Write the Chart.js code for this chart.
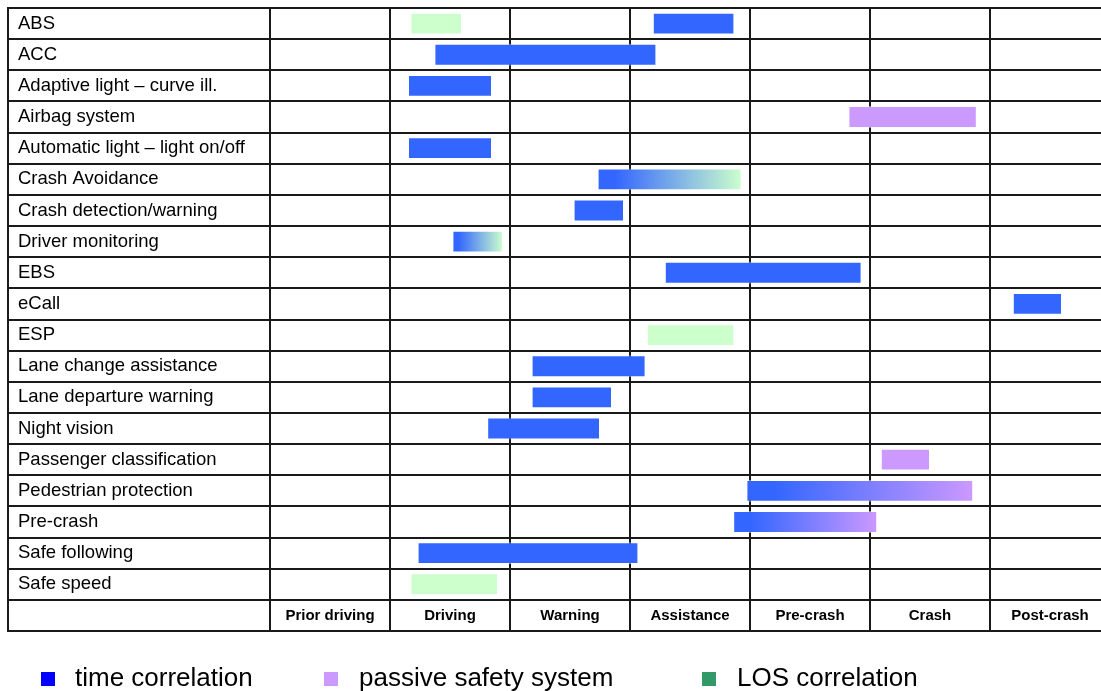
<!DOCTYPE html>
<html>
<head>
<meta charset="utf-8">
<script src="https://cdn.jsdelivr.net/npm/chart.js@4.4.1/dist/chart.umd.min.js"></script>
<style>
    body { margin: 0; background: #fff; }
    #wrap { position: relative; width: 1101px; height: 691px; overflow: hidden; }
    .legend-box { position: absolute; top: 672px; width: 14px; height: 14px; }
    .legend-text { position: absolute; top: 662px; font: 26px/30px "Liberation Sans", Arial, sans-serif; color: #000; white-space: nowrap; }
</style>
</head>
<body>
<div id="wrap">
    <canvas id="phaseChart" width="1101" height="691"></canvas>
    <div class="legend-box" style="left:41px; background:#0000ff;"></div>
    <div class="legend-text" style="left:75px;">time correlation</div>
    <div class="legend-box" style="left:324px; background:#cc99ff;"></div>
    <div class="legend-text" style="left:359px;">passive safety system</div>
    <div class="legend-box" style="left:702px; background:#339966;"></div>
    <div class="legend-text" style="left:737px;">LOS correlation</div>
</div>
<script>
// rows of the table, last one is the phase label row
const systems = [
    'ABS', 'ACC', 'Adaptive light – curve ill.', 'Airbag system', 'Automatic light – light on/off',
    'Crash Avoidance', 'Crash detection/warning', 'Driver monitoring', 'EBS', 'eCall', 'ESP',
    'Lane change assistance', 'Lane departure warning', 'Night vision', 'Passenger classification',
    'Pedestrian protection', 'Pre-crash', 'Safe following', 'Safe speed', ''
];
const phases = ['Prior driving', 'Driving', 'Warning', 'Assistance', 'Pre-crash', 'Crash', 'Post-crash'];

// bar spans in phase units (0 = start of "Prior driving")
const activeBars = [
    [3.19, 3.87], [1.37, 3.22], [1.15, 1.85], null, [1.15, 1.85],
    null, [2.53, 2.95], null, [3.29, 4.93], [6.19, 6.6], null,
    [2.18, 3.13], [2.18, 2.85], [1.81, 2.75], null,
    null, null, [1.23, 3.07], null, null
];
const losBars = [
    [1.17, 1.6], null, null, null, null,
    null, null, null, null, null, [3.14, 3.87],
    null, null, null, null,
    null, null, null, [1.17, 1.9], null
];
const passiveBars = [
    null, null, null, [4.82, 5.89], null,
    null, null, null, null, null, null,
    null, null, null, [5.09, 5.5],
    null, null, null, null, null
];
const activeToLosBars = [
    null, null, null, null, null,
    [2.73, 3.93], null, [1.52, 1.94], null, null, null,
    null, null, null, null,
    null, null, null, null, null
];
const activeToPassiveBars = [
    null, null, null, null, null,
    null, null, null, null, null, null,
    null, null, null, null,
    [3.97, 5.86], [3.86, 5.06], null, null, null
];

const BLUE = '#3366ff';
const GREEN = '#ccffcc';
const PURPLE = '#cc99ff';
const FONT = '"Liberation Sans", Arial, sans-serif';

// x range so the label column sits left of 0 and the last column runs off the edge
const X_MIN = -262 / 120;
const X_MAX = 831 / 120;

function gradientFill(from, to) {
    return (ctx) => {
        const chart = ctx.chart;
        if (!chart.chartArea || !Array.isArray(ctx.raw)) return from;
        const xs = chart.scales.x;
        const x0 = xs.getPixelForValue(ctx.raw[0]);
        const x1 = xs.getPixelForValue(ctx.raw[1]);
        const g = chart.ctx.createLinearGradient(x0, 0, x1, 0);
        g.addColorStop(0, from);
        g.addColorStop(0.12, from);
        g.addColorStop(1, to);
        return g;
    };
}

function barSet(label, data, color) {
    return {
        label,
        data,
        backgroundColor: color,
        borderColor: 'rgba(255, 255, 255, 0.45)',
        borderWidth: 1,
        borderSkipped: false,
        grouped: false,
        barPercentage: 0.7,
        categoryPercentage: 1
    };
}

window.addEventListener('DOMContentLoaded', () => {
    const ctx = document.getElementById('phaseChart').getContext('2d');
    new Chart(ctx, {
        type: 'bar',
        data: {
            labels: systems,
            datasets: [
                barSet('time correlation', activeBars, BLUE),
                barSet('LOS correlation', losBars, GREEN),
                barSet('passive safety system', passiveBars, PURPLE),
                barSet('time → LOS', activeToLosBars, gradientFill(BLUE, GREEN)),
                barSet('time → passive', activeToPassiveBars, gradientFill(BLUE, PURPLE))
            ]
        },
        options: {
            indexAxis: 'y',
            responsive: false,
            animation: false,
            layout: { padding: { left: 8, top: 8, right: 0, bottom: 60 } },
            plugins: {
                legend: { display: false },
                tooltip: { enabled: false }
            },
            scales: {
                x: {
                    type: 'linear',
                    position: 'bottom',
                    min: X_MIN,
                    max: X_MAX,
                    afterBuildTicks: (scale) => {
                        scale.ticks = [X_MIN, 0, 1, 2, 3, 4, 5, 6].map(v => ({ value: v }));
                    },
                    afterFit: (scale) => {
                        scale.height = 0;
                        scale.paddingLeft = 0;
                        scale.paddingRight = 0;
                    },
                    grid: { color: '#1a1a1a', lineWidth: 2, drawTicks: false },
                    border: { display: true, color: '#1a1a1a', width: 2 },
                    ticks: {
                        mirror: true,
                        autoSkip: false,
                        maxRotation: 0,
                        padding: 6,
                        labelOffset: 60,
                        color: '#000',
                        font: { family: FONT, size: 15, weight: 'bold' },
                        callback: (v) => (v >= 0 && Number.isInteger(v) ? phases[v] : '')
                    }
                },
                y: {
                    type: 'category',
                    afterFit: (scale) => {
                        scale.width = 0;
                        scale.paddingTop = 0;
                        scale.paddingBottom = 0;
                    },
                    grid: { color: '#1a1a1a', lineWidth: 2, drawTicks: false, offset: true },
                    border: { display: true, color: '#1a1a1a', width: 2 },
                    ticks: {
                        mirror: true,
                        padding: 10,
                        color: '#000',
                        font: { family: FONT, size: 18.5 }
                    }
                }
            }
        }
    });
});
</script>
</body>
</html>
